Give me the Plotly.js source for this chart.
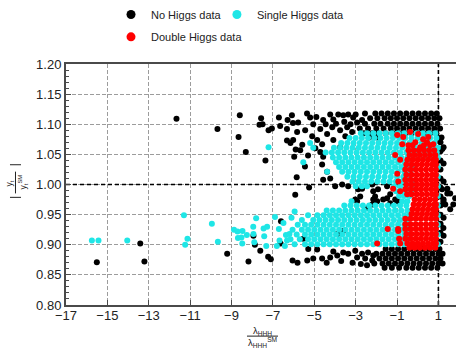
<!DOCTYPE html>
<html><head><meta charset="utf-8">
<script src="https://cdn.plot.ly/plotly-3.0.1.min.js"></script>
<style>html,body{margin:0;padding:0;background:#fff}#chart{width:456px;height:356px}</style>
</head><body><div id="chart"></div>
<script>
// ---------- data ----------
const seriesNames = ['No Higgs data', 'Single Higgs data', 'Double Higgs data'];
const xTicks = [-17, -15, -13, -11, -9, -7, -5, -3, -1, 1];
const yTicks = [0.80, 0.85, 0.90, 0.95, 1.00, 1.05, 1.10, 1.15, 1.20];

// No Higgs data: individual points [lambda ratio, |yt/yt_SM|]
const noHiggsPoints = [
[-15.51,0.871],[-13.41,0.902],[-13.21,0.872],[-11.66,1.109],[-9.68,1.092],[-9.21,0.885],
[-8.60,1.115],[-8.66,1.079],[-8.31,1.054],[-8.18,0.872],[-7.87,0.900],[-7.94,0.915],
[-7.61,0.890],[-7.57,1.110],[-7.50,1.100],[-7.65,1.099],[-7.36,1.040],[-7.23,0.880],
[-7.10,0.876],[-7.21,1.090],[-7.05,1.093],[-6.71,1.111],[-6.65,1.097],[-6.61,0.939],
[-6.63,0.902],[-6.32,1.092],[-6.29,1.107],[-6.08,1.115],[-6.03,1.102],[-6.32,1.073],
[-6.15,1.069],[-5.97,1.046],[-5.92,0.983],[-6.05,0.874],[-5.81,0.870],
[-5.78,1.103],[-5.20,1.111],[-5.05,1.100],[-4.57,1.107],[-4.23,1.116],[-4.08,1.108],
[-3.84,1.116],[-3.60,1.115],[-3.36,1.116],[-3.12,1.111],[-2.93,1.103],[-2.69,1.107],
[-5.83,1.087],[-5.44,1.090],[-4.71,1.092],[-4.38,1.084],[-4.13,1.095],[-3.75,1.090],
[-3.41,1.095],[-3.17,1.087],[-6.02,1.074],[-5.58,1.066],[-4.86,1.074],[-4.62,1.067],
[-4.08,1.074],[-3.75,1.062],[-5.68,1.057],[-4.71,1.054],[-4.57,1.046],[-4.62,1.033],
[-4.38,1.021],[-4.23,1.010],[-4.57,1.008],[-3.99,0.997],[-3.65,1.000],[-3.36,0.997],
[-2.88,0.992],[-3.02,0.975],[-2.78,0.980],
[-5.35,1.118],[-4.90,1.112],[-4.45,1.100],[-3.95,1.101],[-3.55,1.104],[-3.25,1.100],
[-3.00,1.116],[-3.50,1.080],[-5.10,1.080],[-4.95,1.060],[-5.30,1.048],[-5.90,1.058],
[-5.45,1.030],[-5.85,1.012],[-5.25,0.995],
[-2.20,1.000],[-1.92,0.992],[-1.48,0.997],[-2.06,0.980],[-1.67,0.975],[-1.33,0.984],
[-2.15,0.975],[-1.33,0.969],[-1.09,0.975],[-2.40,0.961],[-2.20,0.967],[-2.69,0.993],
[-2.15,0.989],[-1.48,0.977],[-0.99,0.972],[-1.96,0.972],[-2.93,0.972],
[-5.53,0.910],[-3.89,0.918],[-3.60,0.923],
[1.18,0.992],[1.43,0.985],[1.24,0.972],[1.81,0.977],[1.72,0.967],[1.09,0.934],
[1.19,1.059],[1.33,0.967],[1.57,0.959],[1.24,0.928],[1.43,0.993],[1.57,0.985],
[1.10,1.070],[1.10,1.055],[1.10,1.040],[1.10,1.025],[1.10,1.010],[1.10,0.995],
[1.10,0.980],[1.10,0.965],[1.10,0.950],[1.10,0.935],[1.10,0.920],[1.10,0.905],
[1.25,1.062],[1.25,1.035],[1.25,1.005],[1.25,0.975],[1.25,0.945],[1.25,0.915],
[-5.29,0.893],[-4.86,0.892],[-5.34,0.874],[-5.05,0.877],[-4.62,0.877],[-4.23,0.879],
[-4.08,0.889],[-3.89,0.882],[-3.60,0.887],[-3.36,0.885],[-3.02,0.890],[-2.93,0.879],
[-2.69,0.885],[-2.54,0.877],[-2.40,0.887],[-2.20,0.874],[-2.15,0.882],[-3.15,0.870],
[-2.75,0.868],[-4.40,0.870],[-3.70,0.873],[-2.45,0.866]
];
// No Higgs data: dense rows [|yt/yt_SM|, [lambda ratios...]]
const noHiggsRows = [
[1.118,[-2.55,-2.05,-1.75,-1.45,-1.15,-0.85,-0.55,-0.25,0.05,0.35,0.65,0.92]],
[1.110,[-2.30,-1.95,-1.60,-1.30,-1.00,-0.70,-0.40,-0.10,0.20,0.50,0.80,1.05]],
[1.101,[-2.55,-2.10,-1.80,-1.45,-1.15,-0.85,-0.55,-0.25,0.05,0.35,0.65,0.95]],
[1.093,[-2.80,-2.40,-2.00,-1.65,-1.30,-1.00,-0.70,-0.40,-0.10,0.20,0.50,0.80,1.08]],
[1.085,[-2.60,-2.20,-1.90,-1.55,-1.20,-0.90,-0.60,-0.30,0.00,0.30,0.60,0.90]],
[1.078,[-2.35,-1.95,0.95,1.15]],
[0.893,[-1.55,-1.25,-0.95,-0.65,-0.35,-0.05,0.25,0.55,0.85,1.05]],
[0.885,[-2.00,-1.70,-1.40,-1.10,-0.80,-0.50,-0.20,0.10,0.40,0.70,1.00,1.20]],
[0.877,[-1.85,-1.55,-1.25,-0.95,-0.65,-0.35,-0.05,0.25,0.55,0.85,1.10]],
[0.869,[-2.10,-1.70,-1.40,-1.10,-0.80,-0.50,-0.20,0.10,0.40,0.70,1.00,1.20]],
[0.862,[-1.60,-1.25,-0.90,-0.55,-0.25,0.05,0.35,0.65,0.95]]
];

// Single Higgs data
const singleHiggsPoints = [
[-15.75,0.907],[-15.43,0.907],[-14.04,0.907],[-11.30,0.949],[-11.13,0.910],[-11.24,0.900],
[-9.95,0.935],[-9.66,0.905],[-8.88,0.925],[-8.71,0.922],[-8.47,0.923],[-8.69,0.911],
[-8.52,0.912],[-8.26,0.916],[-8.48,0.902],[-7.95,0.930],[-7.81,0.944],[-7.94,0.918],
[-7.90,0.904],[-7.45,0.927],[-7.28,0.930],[-7.42,0.914],[-7.32,0.898],[-6.90,0.946],
[-6.71,0.926],[-6.49,0.936],[-6.37,0.916],[-6.20,0.918],[-6.81,0.898],[-6.68,0.907],
[-6.42,0.898],[-6.32,0.907],[-7.21,1.062],[-6.10,0.945],[-5.95,0.955],[-5.20,1.069],
[-5.05,1.061],[-5.53,1.037],[-4.38,1.021],
[0.97,1.061],[0.97,1.045],[0.97,1.029],[0.97,1.013],[0.97,0.997],[0.97,0.981],
[0.97,0.965],[0.97,0.949],[0.97,0.933],[0.97,0.917],[0.97,0.901]
];
const singleHiggsRows = [
[0.901,[-5.95,-5.45,-5.15,-4.85,-4.55,-4.25,-3.95,-3.65,-3.35,-3.05,-2.75,-2.45,-2.15,-1.85,-1.55,-1.25,-0.95,-0.65,-0.40]],
[0.909,[-6.15,-5.70,-5.30,-5.00,-4.70,-4.40,-4.10,-3.80,-3.50,-3.20,-2.90,-2.60,-2.30,-2.00,-1.70,-1.40,-1.10,-0.80,-0.50]],
[0.917,[-5.85,-5.45,-5.15,-4.85,-4.55,-4.25,-3.95,-3.65,-3.35,-3.05,-2.75,-2.45,-2.15,-1.85,-1.55,-1.25,-0.95,-0.65,-0.40]],
[0.925,[-6.05,-5.60,-5.30,-5.00,-4.70,-4.40,-4.10,-3.80,-3.50,-3.20,-2.90,-2.60,-2.30,-2.00,-1.70,-1.40,-1.10,-0.80,-0.50]],
[0.933,[-5.80,-5.45,-5.15,-4.85,-4.55,-4.25,-3.95,-3.65,-3.35,-3.05,-2.75,-2.45,-2.15,-1.85,-1.55,-1.25,-0.95,-0.65,-0.40]],
[0.941,[-5.60,-5.05,-4.75,-4.45,-4.15,-3.85,-3.55,-3.25,-2.95,-2.65,-2.35,-2.05,-1.75,-1.45,-1.15,-0.85,-0.55]],
[0.949,[-5.30,-4.85,-4.55,-4.25,-3.95,-3.65,-3.35,-3.05,-2.75,-2.45,-2.15,-1.85,-1.55,-1.25,-0.95,-0.65,-0.40]],
[0.957,[-4.40,-4.10,-3.80,-3.50,-3.20,-2.90,-2.60,-2.30,-2.00,-1.70,-1.40,-1.10,-0.80,-0.50]],
[0.965,[-3.55,-3.25,-2.95,-2.65,-2.35,-2.05,-1.75,-1.45,-1.15,-0.85,-0.55]],
[0.972,[-3.20,-0.75,-0.50]],
[0.981,[-0.90,-0.65,-0.40]],
[0.989,[-1.05,-0.80,-0.55,-0.30]],
[0.997,[-3.00,-2.70,-2.45,-1.15,-0.85,-0.55,-0.30]],
[1.005,[-3.15,-2.85,-2.55,-2.25,-1.95,-1.65,-1.35,-1.05,-0.75,-0.45,-0.20]],
[1.013,[-3.40,-3.10,-2.80,-2.50,-2.20,-1.90,-1.60,-1.30,-1.00,-0.70,-0.40]],
[1.021,[-3.65,-3.35,-3.05,-2.75,-2.45,-2.15,-1.85,-1.55,-1.25,-0.95,-0.65,-0.35]],
[1.029,[-3.80,-3.50,-3.20,-2.90,-2.60,-2.30,-2.00,-1.70,-1.40,-1.10,-0.80,-0.50,-0.20]],
[1.037,[-3.95,-3.65,-3.35,-3.05,-2.75,-2.45,-2.15,-1.85,-1.55,-1.25,-0.95,-0.65,-0.35]],
[1.045,[-4.10,-3.80,-3.50,-3.20,-2.90,-2.60,-2.30,-2.00,-1.70,-1.40,-1.10,-0.80,-0.50,-0.20,0.10,0.40,0.70]],
[1.053,[-4.45,-4.15,-3.85,-3.55,-3.25,-2.95,-2.65,-2.35,-2.05,-1.75,-1.45,-1.15,-0.85,-0.55,-0.25,0.05,0.35,0.65,0.92]],
[1.061,[-4.05,-3.75,-3.45,-3.15,-2.85,-2.55,-2.25,-1.95,-1.65,-1.35,-1.05,-0.75,-0.45,-0.15,0.15,0.45,0.75]],
[1.069,[-3.70,-3.40,-3.10,-2.80,-2.50,-2.20,-1.90,-1.60,-1.30,-1.00,-0.70,-0.40,-0.10,0.20,0.50,0.80]],
[1.077,[-3.30,-3.00,-2.70,-2.40,-2.10,-1.80,-1.50,-1.20,-0.90,-0.60,-0.30,0.00,0.30,0.60,0.90]],
[1.085,[-2.75,-2.45,-2.15,-1.85,-1.55,-1.25,-0.95,-0.65,-0.35,-0.05,0.25,0.55,0.85]]
];

// Double Higgs data
const doubleHiggsPoints = [
[-0.99,1.082],[-0.70,1.079],[-0.37,1.087],[0.02,1.084],[0.26,1.075],[-0.75,1.067],
[-0.12,1.070],[0.12,1.062],[-1.09,1.049],[-0.85,1.041],[-0.99,1.018],[-0.94,1.005],
[-1.19,0.993],[-0.85,0.989],[-0.51,0.984],[0.51,1.079],[0.75,1.067],[0.45,1.070],
[-0.94,0.923]
];
const doubleHiggsRows = [
[1.065,[-0.45,-0.25,0.30,0.60]],
[1.057,[-0.45,-0.20,0.05,0.30,0.55,0.80]],
[1.049,[-0.40,-0.15,0.10,0.35,0.60,0.85]],
[1.041,[-0.50,-0.25,0.00,0.25,0.50,0.75,0.88]],
[1.033,[-0.55,-0.30,-0.05,0.20,0.45,0.70,0.88]],
[1.025,[-0.60,-0.35,-0.10,0.15,0.40,0.65,0.88]],
[1.016,[-0.55,-0.30,-0.05,0.20,0.45,0.70,0.88]],
[1.008,[-0.60,-0.35,-0.10,0.15,0.40,0.65,0.88]],
[1.000,[-0.55,-0.30,-0.05,0.20,0.45,0.70,0.88]],
[0.992,[-0.60,-0.35,-0.10,0.15,0.40,0.65,0.88]],
[0.984,[-0.30,-0.05,0.20,0.45,0.70,0.88]],
[0.975,[-0.15,0.10,0.35,0.60,0.85]],
[0.967,[-0.20,0.05,0.30,0.55,0.80,0.88]],
[0.959,[-0.25,0.00,0.25,0.50,0.75,0.88]],
[0.951,[-0.30,-0.05,0.20,0.45,0.70,0.88]],
[0.943,[-0.60,-0.35,-0.10,0.15,0.40,0.65,0.88]],
[0.934,[-0.60,-0.35,-0.10,0.15,0.40,0.65,0.88]],
[0.926,[-1.45,-0.95,-0.60,-0.35,-0.10,0.15,0.40,0.65,0.88]],
[0.918,[-0.55,-0.30,-0.05,0.20,0.45,0.70,0.88]],
[0.910,[-0.90,-0.60,-0.35,-0.10,0.15,0.40,0.65,0.88]],
[0.902,[-1.96,-0.85,-0.50,-0.25,0.00,0.25,0.50,0.75,0.88]],
[0.895,[-0.40,-0.15,0.10,0.35,0.60,0.85]]
];

// ---------- build ----------
function expand(points, rows) {
  const xs = [], ys = [];
  points.forEach(p => { xs.push(p[0]); ys.push(p[1]); });
  rows.forEach(r => r[1].forEach(x => { xs.push(x); ys.push(r[0]); }));
  return { xs, ys };
}
const FONT = 'Liberation Sans, Arial, Helvetica, sans-serif';
const colors = ['#000000', '#1fe6e6', '#ff0000'];
const sets = [expand(noHiggsPoints, noHiggsRows), expand(singleHiggsPoints, singleHiggsRows), expand(doubleHiggsPoints, doubleHiggsRows)];
const legendIds = ['legend', 'legend2', 'legend3'];

const traces = [];
sets.forEach((s, i) => {
  traces.push({ type: 'scatter', mode: 'markers', x: s.xs, y: s.ys, name: seriesNames[i],
    marker: { size: 6, color: colors[i], line: { width: 0 } }, showlegend: false, hoverinfo: 'skip' });
});
seriesNames.forEach((n, i) => {
  traces.push({ type: 'scatter', mode: 'markers', x: [null], y: [null], name: n,
    marker: { size: 9, color: colors[i] }, showlegend: true, legend: legendIds[i] });
});

const legBase = { orientation: 'h', xanchor: 'left', yanchor: 'top', bgcolor: 'rgba(0,0,0,0)',
  font: { family: FONT, size: 11, color: '#222' }, itemclick: false, itemdoubleclick: false };

const axisCommon = {
  showline: true, linecolor: '#4a4a4a', linewidth: 2, ticks: 'inside', ticklen: 5, tickcolor: '#4a4a4a',
  showgrid: true, gridcolor: '#9c9c9c', gridwidth: 1, griddash: '4px,2px', zeroline: false,
  tickfont: { family: FONT, size: 13, color: '#222' }
};

const layout = {
  width: 456, height: 356,
  margin: { l: 66, r: 0, t: 61, b: 51 },
  paper_bgcolor: '#fff', plot_bgcolor: '#fff',
  xaxis: Object.assign({}, axisCommon, { range: [-17, 1.85], tickmode: 'array', tickvals: xTicks,
    ticktext: xTicks.map(v => v < 0 ? '\u2212' + Math.abs(v) : String(v)), mirror: true, ticklabelstandoff: -3 }),
  yaxis: Object.assign({}, axisCommon, { range: [0.8, 1.2], tickmode: 'array', tickvals: yTicks,
    ticktext: yTicks.map(v => v.toFixed(2)), mirror: false,
    minor: { dtick: 0.01, tick0: 0.8, ticks: 'inside', ticklen: 3, tickcolor: '#4a4a4a', showgrid: false } }),
  legend: Object.assign({}, legBase, { x: 0.1154, y: 1.266 }),
  legend2: Object.assign({}, legBase, { x: 0.387, y: 1.266 }),
  legend3: Object.assign({}, legBase, { x: 0.1154, y: 1.173 }),
  shapes: [
    { type: 'line', xref: 'x', yref: 'y', x0: -17, x1: 1.85, y0: 1, y1: 1, layer: 'between',
      line: { color: '#000', width: 1.6, dash: '4px,3px' } },
    { type: 'line', xref: 'x', yref: 'y', x0: 1, x1: 1, y0: 0.8, y1: 1.2, layer: 'between',
      line: { color: '#000', width: 1.6, dash: '4px,3px' } },
    // y title fraction bar and absolute-value bars
    { type: 'line', xref: 'paper', yref: 'paper', x0: -0.1295, x1: -0.1295, y0: 0.4631, y1: 0.5533, line: { color: '#222', width: 1 } },
    { type: 'line', xref: 'paper', yref: 'paper', x0: -0.1436, x1: -0.1154, y0: 0.5820, y1: 0.5820, line: { color: '#222', width: 1 } },
    { type: 'line', xref: 'paper', yref: 'paper', x0: -0.1436, x1: -0.1154, y0: 0.4467, y1: 0.4467, line: { color: '#222', width: 1 } },
    // x title fraction bar
    { type: 'line', xref: 'paper', yref: 'paper', x0: 0.4641, x1: 0.5436, y0: -0.1291, y1: -0.1291, line: { color: '#222', width: 1 } }
  ],
  annotations: [
    { xref: 'paper', yref: 'paper', x: 0.5026, y: -0.1066, xanchor: 'center', yanchor: 'middle', showarrow: false,
      text: '\u03bb<sub>HHH</sub>', font: { family: FONT, size: 9.5, color: '#222' } },
    { xref: 'paper', yref: 'paper', x: 0.5026, y: -0.1557, xanchor: 'center', yanchor: 'middle', showarrow: false,
      text: '\u03bb<sub>HHH</sub><sup>SM</sup>', font: { family: FONT, size: 9.5, color: '#222' } },
    { xref: 'paper', yref: 'paper', x: -0.1449, y: 0.5061, xanchor: 'center', yanchor: 'middle', showarrow: false, textangle: -90,
      text: 'y<sub>t</sub>', font: { family: FONT, size: 8.5, color: '#222' } },
    { xref: 'paper', yref: 'paper', x: -0.1103, y: 0.5123, xanchor: 'center', yanchor: 'middle', showarrow: false, textangle: -90,
      text: 'y<sub>t</sub><sup>SM</sup>', font: { family: FONT, size: 8.5, color: '#222' } }
  ]
};

Plotly.newPlot('chart', traces, layout, { displayModeBar: false, staticPlot: true });
</script></body></html>
